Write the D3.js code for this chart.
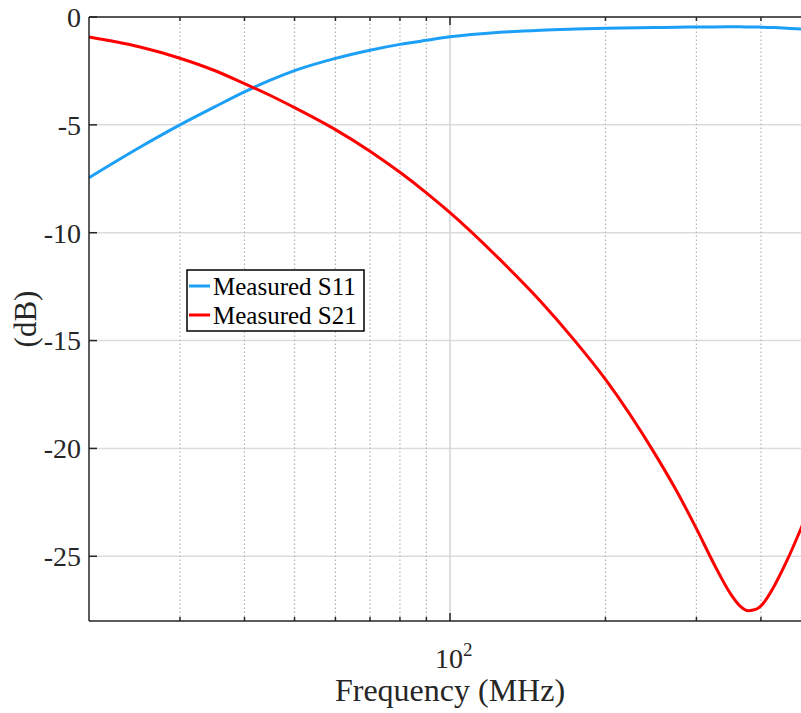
<!DOCTYPE html>
<html>
<head>
<meta charset="utf-8">
<script src="https://cdn.jsdelivr.net/npm/d3@7"></script>
<style>
  body { margin: 0; background: #fff; }
  svg { display: block; font-family: "Liberation Serif", "Times New Roman", serif; }
</style>
</head>
<body>
<div id="vis"></div>
<script>
// frequency points (MHz) and the two measured curves (dB)
let freqs = [20, 25, 30, 35, 40, 45, 50, 60, 70, 80, 90, 100, 125, 150, 175, 200, 250, 275, 300, 325, 350, 365, 378, 392, 400, 425, 450, 479, 500];
let s11 = [-7.45, -6.06, -5.0, -4.17, -3.47, -2.92, -2.49, -1.92, -1.54, -1.27, -1.08, -0.92, -0.71, -0.61, -0.56, -0.525, -0.49, -0.475, -0.465, -0.46, -0.455, -0.455, -0.46, -0.465, -0.47, -0.49, -0.52, -0.555, -0.58];
let s21 = [-0.93, -1.38, -1.91, -2.48, -3.09, -3.65, -4.2, -5.22, -6.22, -7.2, -8.15, -9.07, -11.25, -13.2, -15.05, -16.8, -20.3, -22.0, -23.72, -25.39, -26.77, -27.32, -27.52, -27.45, -27.3, -26.35, -25.16, -23.67, -22.6];

let yTicks = [0, -5, -10, -15, -20, -25];
let minorFreqs = [30, 40, 50, 60, 70, 80, 90, 200, 300, 400];
let majorFreqs = [100];
let seriesNames = ['Measured S11', 'Measured S21'];
let seriesColors = ['#1ca0f7', '#ff0000'];

let width = 801, height = 713;
let margin = { top: 17, left: 89, right: -10, bottom: 92 };

let svg = d3.select('#vis')
    .append('svg')
    .attr('width', width)
    .attr('height', height);

let x = d3.scaleLog()
    .domain([20, 500])
    .range([margin.left, width - margin.right]);
let y = d3.scaleLinear()
    .domain([-28, 0])
    .range([height - margin.bottom, margin.top]);

let x0 = margin.left, x1 = width - margin.right;
let y0 = height - margin.bottom, y1 = margin.top;

// gridlines
svg.append('g')
    .selectAll('line')
    .data(yTicks)
    .enter().append('line')
    .attr('x1', x0).attr('x2', x1)
    .attr('y1', d => y(d)).attr('y2', d => y(d))
    .attr('stroke', '#dcdcdc')
    .attr('stroke-width', 1.5);

svg.append('g')
    .selectAll('line')
    .data(minorFreqs)
    .enter().append('line')
    .attr('x1', d => x(d)).attr('x2', d => x(d))
    .attr('y1', y0).attr('y2', y1)
    .attr('stroke', '#b4b4b4')
    .attr('stroke-width', 1.2)
    .attr('stroke-dasharray', '1.5,2.5');

svg.append('g')
    .selectAll('line')
    .data(majorFreqs)
    .enter().append('line')
    .attr('x1', d => x(d)).attr('x2', d => x(d))
    .attr('y1', y0).attr('y2', y1)
    .attr('stroke', '#d4d4d4')
    .attr('stroke-width', 1.5);

// curves
let line = d3.line()
    .x(d => x(d[0]))
    .y(d => y(d[1]))
    .curve(d3.curveMonotoneX);

[s11, s21].forEach(function(vals, i) {
    svg.append('path')
        .datum(freqs.map((f, j) => [f, vals[j]]))
        .attr('fill', 'none')
        .attr('stroke', seriesColors[i])
        .attr('stroke-width', 3)
        .attr('d', line);
});

// axes box (left, top, bottom) with inward ticks
let axisColor = '#262626';
svg.append('line').attr('x1', x0).attr('x2', x0).attr('y1', y0).attr('y2', y1)
    .attr('stroke', axisColor).attr('stroke-width', 1.5);
svg.append('line').attr('x1', x0).attr('x2', x1).attr('y1', y0).attr('y2', y0)
    .attr('stroke', axisColor).attr('stroke-width', 1.5);
svg.append('line').attr('x1', x0).attr('x2', x1).attr('y1', y1).attr('y2', y1)
    .attr('stroke', axisColor).attr('stroke-width', 1.5);

// x ticks (bottom & top)
let xt = minorFreqs.map(f => [f, 4]).concat(majorFreqs.map(f => [f, 8]));
[[y0, -1], [y1, 1]].forEach(function(side) {
    svg.append('g')
        .selectAll('line')
        .data(xt)
        .enter().append('line')
        .attr('x1', d => x(d[0])).attr('x2', d => x(d[0]))
        .attr('y1', side[0]).attr('y2', d => side[0] + side[1] * d[1])
        .attr('stroke', axisColor)
        .attr('stroke-width', 1.5);
});

// y ticks
svg.append('g')
    .selectAll('line')
    .data(yTicks)
    .enter().append('line')
    .attr('x1', x0).attr('x2', x0 + 8)
    .attr('y1', d => y(d)).attr('y2', d => y(d))
    .attr('stroke', axisColor)
    .attr('stroke-width', 1.5);

svg.append('g')
    .selectAll('text')
    .data(yTicks)
    .enter().append('text')
    .attr('x', x0 - 8)
    .attr('y', d => y(d))
    .attr('dy', '0.35em')
    .attr('text-anchor', 'end')
    .attr('font-size', 28)
    .attr('fill', axisColor)
    .text(d => d === 0 ? '0' : '-' + Math.abs(d));

// x tick label 10^2
let lbl = svg.append('text')
    .attr('x', x(100) - 15)
    .attr('y', 668)
    .attr('font-size', 28)
    .attr('fill', axisColor);
lbl.append('tspan').text('10');
lbl.append('tspan').attr('dy', -12).attr('font-size', 19).text('2');

// axis titles
svg.append('text')
    .attr('x', x(100))
    .attr('y', 701)
    .attr('text-anchor', 'middle')
    .attr('font-size', 32)
    .attr('fill', axisColor)
    .text('Frequency (MHz)');

svg.append('text')
    .attr('transform', 'translate(36,319) rotate(-90)')
    .attr('text-anchor', 'middle')
    .attr('font-size', 31)
    .attr('fill', axisColor)
    .text('(dB)');

// legend
let legend = svg.append('g').attr('transform', 'translate(187,270)');
legend.append('rect')
    .attr('width', 177)
    .attr('height', 61)
    .attr('fill', '#fff')
    .attr('stroke', '#000')
    .attr('stroke-width', 1.5);
let items = legend.selectAll('g.item')
    .data(seriesNames)
    .enter().append('g')
    .attr('class', 'item')
    .attr('transform', (d, i) => 'translate(0,' + (16 + i * 29) + ')');
items.append('line')
    .attr('x1', 2).attr('x2', 23)
    .attr('stroke', (d, i) => seriesColors[i])
    .attr('stroke-width', 3);
items.append('text')
    .attr('x', 26)
    .attr('dy', '0.35em')
    .attr('font-size', 25)
    .attr('fill', '#000')
    .text(d => d);
</script>
</body>
</html>
